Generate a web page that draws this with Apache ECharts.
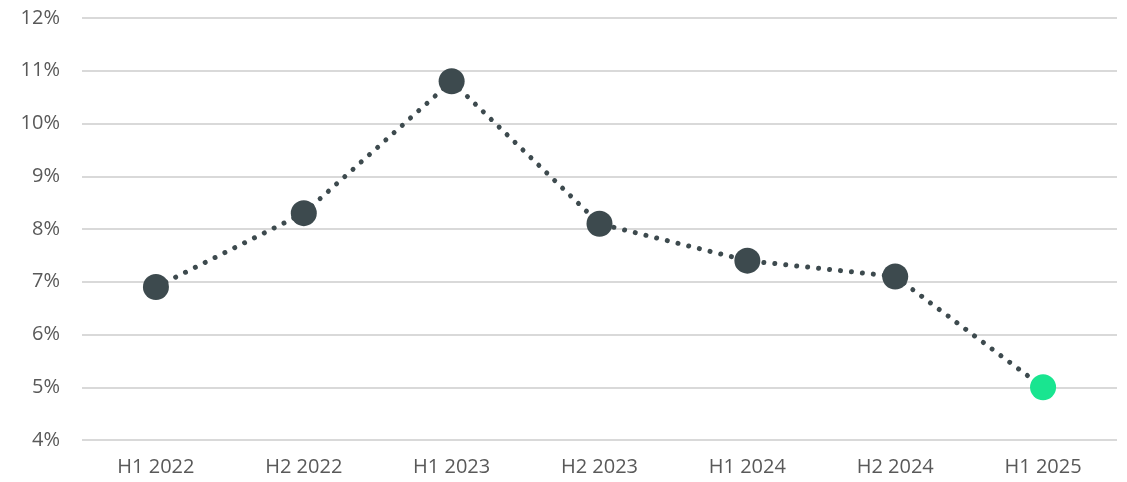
<!DOCTYPE html>
<html>
<head>
<meta charset="utf-8">
<script src="https://cdn.jsdelivr.net/npm/echarts@6/dist/echarts.min.js"></script>
<style>
  html, body { margin: 0; padding: 0; background: #ffffff; }
  #chart { width: 1127px; height: 482px; }
</style>
</head>
<body>
<div id="chart"></div>
<script>
// Half-year periods and rate values (percent)
const categories = ['H1 2022', 'H2 2022', 'H1 2023', 'H2 2023', 'H1 2024', 'H2 2024', 'H1 2025'];
const rates = [6.9, 8.3, 10.8, 8.1, 7.4, 7.1, 5.0];
const highlightIndex = 6;

const chart = echarts.init(document.getElementById('chart'), null, { renderer: 'canvas' });

const points = rates.map((v, i) => ({
  value: v,
  itemStyle: { color: i === highlightIndex ? '#19e590' : '#3d4a4e' }
}));

chart.setOption({
  animation: false,
  backgroundColor: '#ffffff',
  grid: { left: 82, right: 10, top: 18, bottom: 42 },
  xAxis: {
    type: 'category',
    data: categories,
    boundaryGap: true,
    axisLine: { show: false },
    axisTick: { show: false },
    axisLabel: {
      color: '#595959',
      fontSize: 20,
      fontFamily: 'Open Sans',
      margin: 17
    }
  },
  yAxis: {
    type: 'value',
    min: 4,
    max: 12,
    interval: 1,
    axisLine: { show: false },
    axisTick: { show: false },
    splitLine: { lineStyle: { color: '#d9d9d9', width: 2 } },
    axisLabel: {
      formatter: v => v + '%',
      color: '#595959',
      fontSize: 20,
      fontFamily: 'Open Sans',
      margin: 22
    }
  },
  series: [{
    type: 'line',
    data: points,
    symbol: 'circle',
    symbolSize: 26,
    lineStyle: {
      color: '#3d4a4e',
      width: 5,
      type: [0.01, 11],
      cap: 'round'
    },
    z: 3
  }]
});
</script>
</body>
</html>
